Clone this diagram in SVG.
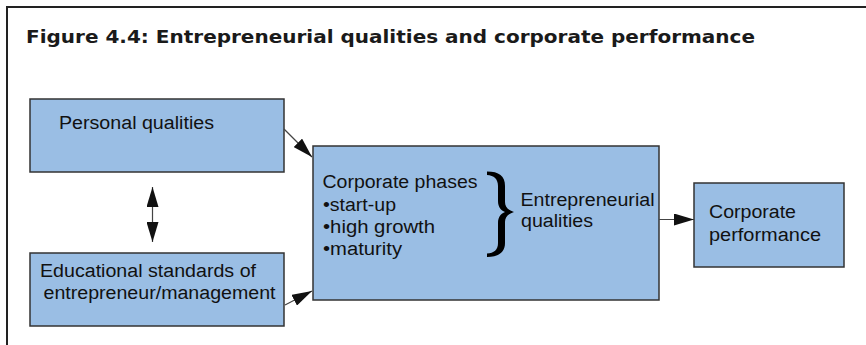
<svg xmlns="http://www.w3.org/2000/svg" width="866" height="345" viewBox="0 0 866 345">
  <style>
    .box { fill: #9abee4; stroke: #333333; stroke-width: 1.5; }
    .lbl { font-family: "Liberation Sans", Arial, sans-serif; font-size: 18px; fill: #111111; }
    .title { font-family: "DejaVu Sans", "Liberation Sans", sans-serif; font-size: 17.5px; font-weight: bold; fill: #1a1a1a; }
    .conn { stroke: #444444; stroke-width: 1.2; fill: none; }
  </style>
  <defs>
    <marker id="ah" viewBox="0 0 20 12" refX="20" refY="6" markerWidth="20" markerHeight="12" markerUnits="userSpaceOnUse" orient="auto-start-reverse">
      <path d="M0,0 L20,6 L0,12 Z" fill="#111111"/>
    </marker>
  </defs>
  <rect width="866" height="345" fill="#ffffff"/>
  <g id="frame">
    <path d="M7,345 V7 H866" fill="none" stroke="#222222" stroke-width="2"/>
  </g>
  <g id="title">
    <text class="title" x="26" y="42.7" textLength="729" lengthAdjust="spacingAndGlyphs">Figure 4.4: Entrepreneurial qualities and corporate performance</text>
  </g>
  <g id="personal-qualities">
    <rect class="box" x="30" y="99" width="254" height="73"/>
    <text class="lbl" x="59" y="128.5" textLength="155" lengthAdjust="spacingAndGlyphs">Personal qualities</text>
  </g>
  <g id="educational-standards">
    <rect class="box" x="30" y="253" width="254" height="73"/>
    <text class="lbl" x="40" y="277" textLength="216" lengthAdjust="spacingAndGlyphs">Educational standards of</text>
    <text class="lbl" x="43.5" y="299" textLength="232" lengthAdjust="spacingAndGlyphs">entrepreneur/management</text>
  </g>
  <g id="corporate-phases">
    <rect class="box" x="313" y="146" width="346" height="154"/>
    <text class="lbl" x="322.5" y="188" textLength="155" lengthAdjust="spacingAndGlyphs">Corporate phases</text>
    <text class="lbl" x="323" y="210.5" textLength="73" lengthAdjust="spacingAndGlyphs">•start-up</text>
    <text class="lbl" x="323" y="232.5" textLength="112" lengthAdjust="spacingAndGlyphs">•high growth</text>
    <text class="lbl" x="323" y="254.5" textLength="79" lengthAdjust="spacingAndGlyphs">•maturity</text>
    <path d="M487,171.5 C499,171.5 505,176 505,186 L505,202 C505,207 508,210 514,212 C508,214 505,217 505,222 L505,243 C505,252 499,257 487,257 L487,253.5 C494,253 498,250 498,243 L498,223 C498,217 501,213.5 505,212 C501,210.5 498,207 498,201 L498,186 C498,179 494,175.5 487,175 Z" fill="#000000"/>
    <text class="lbl" x="520.5" y="206" textLength="134" lengthAdjust="spacingAndGlyphs">Entrepreneurial</text>
    <text class="lbl" x="521" y="227" textLength="72" lengthAdjust="spacingAndGlyphs">qualities</text>
  </g>
  <g id="corporate-performance">
    <rect class="box" x="694" y="183" width="150" height="84"/>
    <text class="lbl" x="709" y="218" textLength="87" lengthAdjust="spacingAndGlyphs">Corporate</text>
    <text class="lbl" x="709" y="241" textLength="112" lengthAdjust="spacingAndGlyphs">performance</text>
  </g>
  <g id="connectors">
    <line class="conn" x1="284" y1="129" x2="312" y2="157" marker-end="url(#ah)"/>
    <line class="conn" x1="285" y1="305" x2="312" y2="291" marker-end="url(#ah)"/>
    <line class="conn" x1="152.5" y1="187" x2="152.5" y2="242" marker-start="url(#ah)" marker-end="url(#ah)"/>
    <line class="conn" x1="659" y1="219.5" x2="694" y2="219.5" marker-end="url(#ah)"/>
  </g>
</svg>
